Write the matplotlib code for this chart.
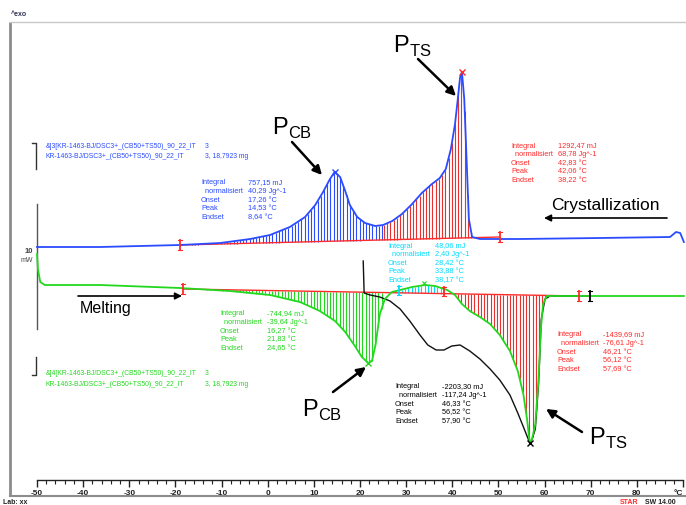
import numpy as np
import matplotlib
matplotlib.use("Agg")
import matplotlib.pyplot as plt

plt.rcParams['mathtext.fontset'] = 'custom'
plt.rcParams['mathtext.rm'] = 'Liberation Sans'

# ---------------- data (temperature in degC, heat flow in mW, arbitrary offset) -------------
T_cool = [-50.0, -36.3, -19.0, -10.3, -3.8, 0.5, 4.8, 8.1, 10.3, 12.0, 13.5, 14.5, 15.7, 16.8,
          17.8, 19.4, 21.1, 23.3, 25.0, 27.0, 29.1, 31.3, 33.4, 35.6, 37.3, 38.6, 39.7, 40.6,
          41.2, 41.7, 42.1, 42.6, 43.1, 43.6, 44.3, 46.0, 54.7, 72.0, 87.2, 88.5, 89.4, 90.2]
HF_cool = [0.5, 0.5, 1.0, 1.5, 2.5, 3.5, 5.5, 8.0, 11.0, 14.25, 17.5, 19.25, 18.0, 14.5,
           11.0, 8.0, 6.5, 5.75, 6.0, 7.0, 8.75, 11.25, 14.0, 16.25, 17.75, 20.0, 25.0, 31.25,
           37.5, 43.0, 44.25, 37.5, 22.5, 7.5, 3.0, 2.5, 2.5, 2.75, 3.0, 4.25, 4.0, 1.75]

T_heat = [-50.0, -49.8, -49.3, -48.3, -36.3, -19.0, -8.2, 0.5, 7.0, 11.3, 14.6, 16.8, 18.9,
          20.4, 21.8, 22.6, 23.4, 24.3, 25.4, 26.9, 28.7, 31.3, 34.1, 36.3, 38.9, 40.6, 42.1,
          43.8, 46.0, 48.2, 50.3, 52.5, 54.2, 55.4, 56.2, 56.8, 57.3, 58.0, 58.7, 59.2, 59.7,
          60.5, 63.3, 76.4, 90.2]
HF_heat = [-1.25, -5.0, -8.25, -9.0, -9.0, -9.75, -10.5, -11.5, -13.25, -15.5, -18.0, -20.75,
           -24.25, -27.0, -28.5, -28.0, -23.75, -16.25, -12.5, -10.75, -10.25, -9.5, -9.0,
           -9.25, -10.25, -11.5, -13.75, -15.5, -17.0, -18.75, -21.5, -25.5, -30.5, -36.25,
           -42.5, -48.5, -47.5, -43.75, -32.5, -20.0, -13.75, -11.75, -11.75, -11.75, -11.75]

T_total = [20.7, 20.9, 22.2, 24.3, 26.5, 28.7, 30.8, 33.0, 34.7, 36.5, 38.2, 39.9, 41.7, 43.8,
           46.0, 48.2, 50.3, 52.5, 54.2, 55.6, 56.8, 57.3, 58.0, 58.7, 59.3, 60.1, 61.2, 69.9]
HF_total = [-3.0, -11.0, -11.5, -12.0, -13.0, -15.0, -18.0, -21.5, -24.0, -25.25, -25.25,
            -24.25, -24.0, -25.5, -27.5, -30.0, -32.75, -36.5, -41.0, -45.0, -48.5, -47.5,
            -45.0, -33.75, -17.5, -12.5, -11.75, -11.75]

base_cool_T = [-19.0, 50.3]
base_cool_HF = [1.0, 3.0]
base_heat_T = [-18.4, 67.5]
base_heat_HF = [-10.0, -11.75]

x_ticks = [-50, -40, -30, -20, -10, 0, 10, 20, 30, 40, 50, 60, 70, 80, 90]
x_tick_labels = ['-50', '-40', '-30', '-20', '-10', '0', '10', '20', '30', '40', '50', '60',
                 '70', '80', '°C']

legend_cool = ["&]3[KR-1463-BJ/DSC3+_(CB50+TS50)_90_22_IT", "KR-1463-BJ/DSC3+_(CB50+TS50)_90_22_IT"]
legend_heat = ["&]4[KR-1463-BJ/DSC3+_(CB50+TS50)_90_22_IT", "KR-1463-BJ/DSC3+_(CB50+TS50)_90_22_IT"]
legend_tail = ["3", "3, 18,7923 mg"]

res_labels = ["Integral", "  normalisiert", "Onset", "Peak", "Endset"]
res_cool_cb = ["757,15 mJ", "40,29 Jg^-1", "17,26 °C", "14,53 °C", "8,64 °C"]
res_cool_ts = ["1292,47 mJ", "68,78 Jg^-1", "42,83 °C", "42,06 °C", "38,22 °C"]
res_exo = ["48,06 mJ", "2,40 Jg^-1", "28,42 °C", "33,88 °C", "38,17 °C"]
res_heat_cb = ["-744,94 mJ", "-39,64 Jg^-1", "16,27 °C", "21,83 °C", "24,65 °C"]
res_heat_all = ["-2203,30 mJ", "-117,24 Jg^-1", "46,33 °C", "56,52 °C", "57,90 °C"]
res_heat_ts = ["-1439,69 mJ", "-76,61 Jg^-1", "46,21 °C", "56,12 °C", "57,69 °C"]

# ---------------- colours ----------------
BLUE = '#2a4bff'
RED = '#ff2a2a'
GREEN = '#22d81e'
CYAN = '#00dcff'
GRAY = '#8c8c8c'

W, H = 686, 506
PX_PER_DEG = 4.614
X0 = 37          # pixel of -50 degC


def px2T(px):
    return -50 + (px - X0) / PX_PER_DEG


def py2HF(py):
    return (250 - py) / 4.0


fig = plt.figure(figsize=(W / 100, H / 100), dpi=100)
ax = fig.add_axes([0, 0, 1, 1])
ax.set_xlim(px2T(0), px2T(W))
ax.set_ylim(py2HF(H), py2HF(0))
ax.axis('off')

# frame
ax.plot([px2T(10), px2T(10)], [py2HF(23), py2HF(497)], color=GRAY, lw=2, solid_capstyle='butt')
ax.plot([px2T(10), px2T(W)], [py2HF(23), py2HF(23)], color='#c8c8c8', lw=1)
ax.plot([px2T(10), px2T(W)], [py2HF(497), py2HF(497)], color=GRAY, lw=1.5)
ax.plot([px2T(37), px2T(37)], [py2HF(205), py2HF(330)], color='#555555', lw=1)

# brackets
ax.plot([px2T(32), px2T(36), px2T(36)], [py2HF(144), py2HF(144), py2HF(170)], color='#333333', lw=1)
ax.plot([px2T(36), px2T(36), px2T(32)], [py2HF(358), py2HF(376), py2HF(376)], color='#333333', lw=1)


def hatch(T, HF, bT, bHF, t0, t1, color, step=0.7, lw=0.8):
    tg = np.arange(t0, t1, step)
    top = np.interp(tg, T, HF)
    bot = np.interp(tg, bT, bHF)
    ax.vlines(tg, bot, top, color=color, lw=lw)


# hatching of integrals
hatch(T_cool, HF_cool, base_cool_T, base_cool_HF, -18.6, 25.2, BLUE)
hatch(T_cool, HF_cool, base_cool_T, base_cool_HF, 25.2, 44.3, '#e83030')
hatch(T_heat, HF_heat, base_heat_T, base_heat_HF, -18.0, 25.4, GREEN)
hatch(T_heat, HF_heat, base_heat_T, base_heat_HF, 28.4, 38.3, CYAN)
hatch(T_heat, HF_heat, base_heat_T, base_heat_HF, 40.6, 60.3, '#e83030')

# baselines
ax.plot(base_cool_T, base_cool_HF, color=RED, lw=1)
ax.plot(base_heat_T, base_heat_HF, color=RED, lw=1)

# curves
ax.plot(T_total, HF_total, color='#111111', lw=1)
ax.plot(T_cool, HF_cool, color=BLUE, lw=1.3)
ax.plot(T_heat, HF_heat, color=GREEN, lw=1.3)

# limit markers
for t, h, c in [(base_cool_T[0], base_cool_HF[0], RED), (base_cool_T[1], base_cool_HF[1], RED),
                (base_heat_T[0], base_heat_HF[0], RED), (base_heat_T[1], base_heat_HF[1], RED),
                (69.9, -11.75, 'black'), (28.4, -10.4, CYAN), (38.2, -10.6, RED)]:
    ax.plot([t, t], [h - 1.2, h + 1.2], color=c, lw=1.3)
    ax.plot([t - 0.4, t + 0.4], [h + 1.2, h + 1.2], color=c, lw=0.8)
    ax.plot([t - 0.4, t + 0.4], [h - 1.2, h - 1.2], color=c, lw=0.8)

# peak markers
ax.plot([14.5], [19.25], marker='x', color=BLUE, ms=4, mew=1)
ax.plot([42.1], [44.25], marker='x', color=RED, ms=4, mew=1)
ax.plot([21.8], [-28.5], marker='x', color=GREEN, ms=4, mew=1)
ax.plot([56.8], [-48.5], marker='x', color='black', ms=4, mew=1)
ax.plot([33.9], [-8.5], marker='x', color=GREEN, ms=3, mew=0.8)


def ftext(px, py, s, **kw):
    fig.text(px / W, 1 - py / H, s, **kw)


SMALL = dict(family='Liberation Sans', fontsize=5.3, va='center')
LEG = dict(family='Liberation Sans', fontsize=4.9, va='center')


def block(xl, xv, y0, vals, color, dy=8.6):
    for i, (lab, v) in enumerate(zip(res_labels, vals)):
        ftext(xl, y0 + i * dy, lab, color=color, **SMALL)
        ftext(xv, y0 + i * dy, v, color=color, **SMALL)


block(201, 248, 183, res_cool_cb, BLUE)
block(511, 558, 146, res_cool_ts, RED)
block(388, 435, 246, res_exo, CYAN)
block(220, 267, 314, res_heat_cb, GREEN)
block(395, 442, 387, res_heat_all, 'black')
block(557, 603, 335, res_heat_ts, RED)

# legends
for i, (s, tail) in enumerate(zip(legend_cool, legend_tail)):
    ftext(46, 146 + i * 10.5, s, color=BLUE, **LEG)
    ftext(205, 146 + i * 10.5, tail, color=BLUE, **LEG)
for i, (s, tail) in enumerate(zip(legend_heat, legend_tail)):
    ftext(46, 374 + i * 10.5, s, color=GREEN, **LEG)
    ftext(205, 374 + i * 10.5, tail, color=GREEN, **LEG)

# misc small labels
ftext(11, 14, "^exo", family='Liberation Sans', fontsize=5, weight='bold', color='#333355', va='center')
ftext(33, 252, "10", family='Liberation Sans', fontsize=5.5, weight='bold', color='#444444', va='center', ha='right')
ftext(33, 261, "mW", family='Liberation Sans', fontsize=5, color='#444444', va='center', ha='right')
ftext(3, 503, "Lab: xx", family='Liberation Sans', fontsize=5, weight='bold', color='#222222', va='center')
ftext(620, 503, "STAR", family='Liberation Sans', fontsize=5, weight='bold', color=RED, va='center')
ftext(645, 503, "SW 14.00", family='Liberation Sans', fontsize=5, weight='bold', color='#222222', va='center')

# big annotations
BIG = dict(family='Liberation Sans', fontsize=17, color='black')
ftext(272, 128, r'P$_{\mathrm{CB}}$', va='center', **BIG)
ftext(393, 46, r'P$_{\mathrm{TS}}$', va='center', **BIG)
ftext(302, 410, r'P$_{\mathrm{CB}}$', va='center', **BIG)
ftext(589, 438, r'P$_{\mathrm{TS}}$', va='center', **BIG)

AP = dict(arrowstyle='-|>', color='black', lw=1.8, mutation_scale=13, shrinkA=0, shrinkB=0)
for (x1, y1, x2, y2) in [(292, 143, 322, 176), (418, 60, 456, 97), (333, 393, 366, 368), (582, 433, 546, 410)]:
    ax.annotate('', xy=(px2T(x2), py2HF(y2)), xytext=(px2T(x1), py2HF(y1)), arrowprops=AP)

ftext(551, 206, "Crystallization", family='Liberation Sans', fontsize=12.5, color='black', va='center')
ax.annotate('', xy=(px2T(544), py2HF(219)), xytext=(px2T(667), py2HF(219)),
            arrowprops=dict(arrowstyle='-|>', color='black', lw=1.2, mutation_scale=10, shrinkA=0, shrinkB=0))
ftext(80, 309, "Melting", family='Liberation Sans', fontsize=11.5, color='black', va='center')
ax.annotate('', xy=(px2T(182), py2HF(297)), xytext=(px2T(78), py2HF(297)),
            arrowprops=dict(arrowstyle='-|>', color='black', lw=1.2, mutation_scale=10, shrinkA=0, shrinkB=0))

# temperature axis
axx = fig.add_axes([0, 1 - 481 / H, 1, 0.0001])
axx.set_xlim(px2T(0), px2T(W))
axx.set_yticks([])
for s in ['left', 'right', 'top']:
    axx.spines[s].set_visible(False)
axx.spines['bottom'].set_bounds(-50, 90)
axx.spines['bottom'].set_color('#222222')
axx.spines['bottom'].set_linewidth(1)
axx.patch.set_alpha(0)
axx.set_xticks(x_ticks)
axx.set_xticklabels(x_tick_labels)
axx.set_xticks(np.arange(-50, 91, 2), minor=True)
axx.tick_params(axis='x', which='major', direction='out', length=5, width=1, pad=1.5,
                labelsize=6, colors='#222222')
axx.tick_params(axis='x', which='minor', direction='out', length=3, width=0.8, colors='#222222')
for lab in axx.get_xticklabels():
    lab.set_family('Liberation Sans')
    lab.set_weight('bold')
axx.get_xticklabels()[-1].set_horizontalalignment('right')

fig.savefig('out.png', dpi=100)
